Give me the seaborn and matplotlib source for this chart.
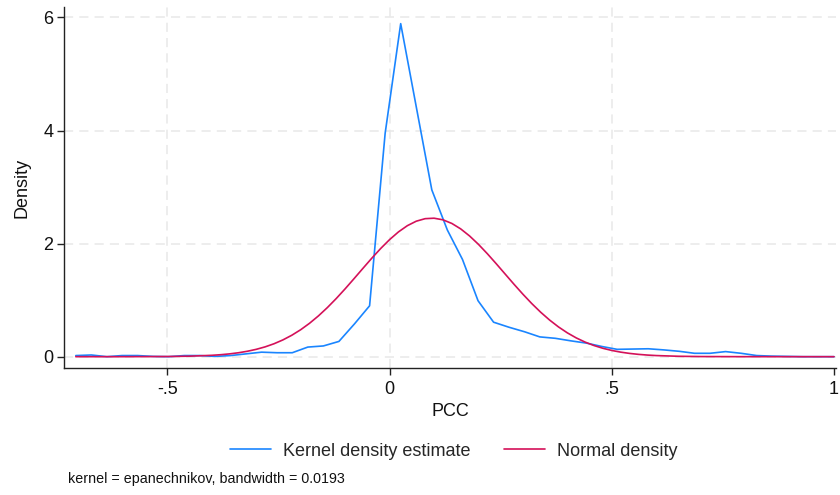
import matplotlib
matplotlib.use("Agg")
import matplotlib.pyplot as plt
import seaborn as sns
import pandas as pd
from matplotlib.lines import Line2D

# evaluation grid (PCC values) of the kernel density estimate
pcc = [-0.706, -0.671, -0.636, -0.602, -0.567, -0.532, -0.497, -0.462, -0.427, -0.393,
       -0.358, -0.323, -0.288, -0.253, -0.219, -0.184, -0.149, -0.114, -0.079, -0.045,
       -0.010, 0.025, 0.060, 0.095, 0.130, 0.164, 0.199, 0.234, 0.269, 0.304,
       0.338, 0.373, 0.408, 0.443, 0.478, 0.512, 0.547, 0.582, 0.617, 0.652,
       0.686, 0.721, 0.756, 0.791, 0.826, 0.860, 0.895, 0.930, 0.965, 1.000]

# kernel density estimate
kde_density = [0.02, 0.03, 0.00, 0.02, 0.02, 0.005, 0.00, 0.02, 0.02, 0.005,
               0.02, 0.05, 0.08, 0.07, 0.07, 0.17, 0.19, 0.27, 0.58, 0.90,
               3.95, 5.89, 4.42, 2.95, 2.24, 1.72, 0.99, 0.61, 0.52, 0.44,
               0.35, 0.325, 0.28, 0.24, 0.18, 0.13, 0.135, 0.14, 0.12, 0.095,
               0.06, 0.06, 0.09, 0.06, 0.02, 0.01, 0.005, 0.00, 0.00, 0.00]

# normal density overlay (read on a finer grid)
normal_x = [-0.706, -0.60, -0.50, -0.45,
            -0.40, -0.38, -0.36, -0.34, -0.32, -0.30, -0.28, -0.26, -0.24, -0.22,
            -0.20, -0.18, -0.16, -0.14, -0.12, -0.10, -0.08, -0.06, -0.04, -0.02,
            0.00, 0.02, 0.04, 0.06, 0.08, 0.10, 0.12, 0.14, 0.16, 0.18,
            0.20, 0.22, 0.24, 0.26, 0.28, 0.30, 0.32, 0.34, 0.36, 0.38,
            0.40, 0.42, 0.44, 0.46, 0.48, 0.50, 0.52, 0.54, 0.56, 0.58,
            0.60, 0.65, 0.70, 0.80, 1.00]
normal_density = [0.0, 0.0002, 0.0031, 0.0091,
                  0.0243, 0.0350, 0.0497, 0.0696, 0.0959, 0.1301, 0.1738, 0.2289, 0.2969, 0.3793,
                  0.4772, 0.5915, 0.7221, 0.8685, 1.0287, 1.2004, 1.3797, 1.5621, 1.7420, 1.9137,
                  2.0706, 2.2070, 2.3171, 2.3962, 2.4409, 2.4492, 2.4207, 2.3567, 2.2601, 2.1349,
                  1.9865, 1.8207, 1.6437, 1.4618, 1.2804, 1.1049, 0.9389, 0.7861, 0.6483, 0.5266,
                  0.4213, 0.3321, 0.2578, 0.1972, 0.1485, 0.1102, 0.0805, 0.0580, 0.0411, 0.0287,
                  0.0198, 0.0073, 0.0024, 0.0002, 0.0]

series_labels = ["Kernel density estimate", "Normal density"]
x_ticks = [-0.5, 0, 0.5, 1]
x_ticklabels = ["-.5", "0", ".5", "1"]
y_ticks = [0, 2, 4, 6]
note = "kernel = epanechnikov, bandwidth = 0.0193"

sns.set_style("white")
plt.rcParams["font.family"] = ["Liberation Sans", "DejaVu Sans"]

blue = "#1A85FF"
red = "#D41159"
txt = "#111111"
fs = 13

fig = plt.figure(figsize=(8.4, 4.95), dpi=100)
ax = fig.add_axes([0.0765, 0.256, 0.9185, 0.7305])

df_kde = pd.DataFrame({"PCC": pcc, "density": kde_density})
df_norm = pd.DataFrame({"PCC": normal_x, "density": normal_density})
sns.lineplot(data=df_kde, x="PCC", y="density", ax=ax, color=blue, lw=1.2, zorder=3)
sns.lineplot(data=df_norm, x="PCC", y="density", ax=ax, color=red, lw=1.2, zorder=4)

ax.set_xlim(-0.732, 1.004)
ax.set_ylim(-0.205, 6.19)
ax.set_xticks(x_ticks)
ax.set_xticklabels(x_ticklabels)
ax.set_yticks(y_ticks)
ax.set_yticklabels([str(v) for v in y_ticks])

for v in [-0.5, 0, 0.5]:
    ax.axvline(v, color="#e8e8e8", lw=1.1, ls=(0, (6, 4)), zorder=1)
for v in y_ticks:
    ax.axhline(v, color="#e8e8e8", lw=1.1, ls=(0, (6, 4)), zorder=1)

for s in ["top", "right"]:
    ax.spines[s].set_visible(False)
for s in ["left", "bottom"]:
    ax.spines[s].set_color("#222222")
    ax.spines[s].set_linewidth(1.0)

ax.tick_params(axis="both", direction="out", length=5, width=1.0, color="#222222",
               labelsize=fs, labelcolor=txt, bottom=True, left=True)
ax.tick_params(axis="x", pad=4)
ax.tick_params(axis="y", pad=3)

ax.set_xlabel("PCC", fontsize=fs, color=txt, labelpad=4)
ax.set_ylabel("Density", fontsize=fs, color=txt, labelpad=9)

handles = [Line2D([], [], color=blue, lw=1.2), Line2D([], [], color=red, lw=1.2)]
fig.legend(handles, series_labels, loc="center", bbox_to_anchor=(0.5397, 1 - 451 / 495),
           ncol=2, frameon=False, fontsize=fs, handlelength=2.27, columnspacing=1.86,
           handletextpad=0.66)

fig.text(68 / 840, 1 - 479 / 495, note, fontsize=10.3, color=txt, va="center", ha="left")

fig.savefig("out.png", dpi=100)
